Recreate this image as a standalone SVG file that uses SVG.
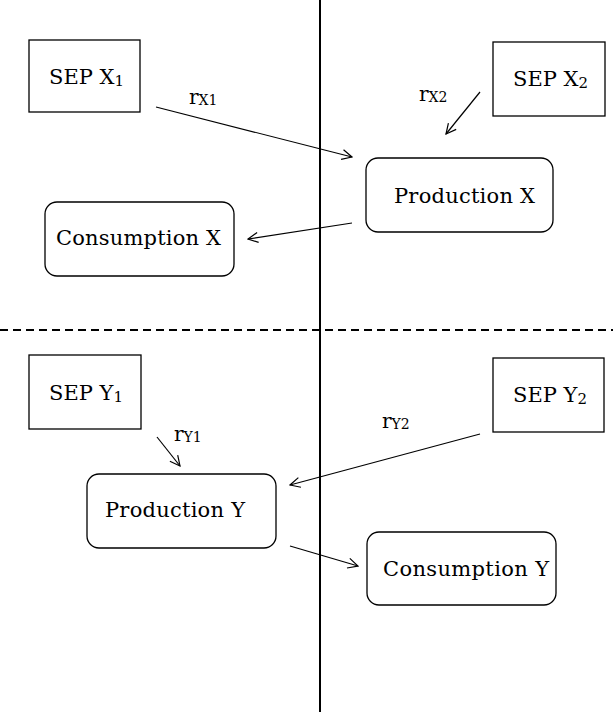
<svg xmlns="http://www.w3.org/2000/svg" width="613" height="712" viewBox="0 0 613 712">
<defs>
<style>
.box{fill:#fff;stroke:#000;stroke-width:1.3}
.t{font-family:"DejaVu Serif","Liberation Serif",serif;font-size:21px;fill:#000}
.s{font-size:15px}
.lbl{font-family:"DejaVu Serif","Liberation Serif",serif;font-size:20px;fill:#000}
.ls{font-size:14px}
.c{stroke:#000;stroke-width:1.2;fill:none;marker-end:url(#ah)}
</style>
<marker id="ah" viewBox="0 0 12 12" refX="11" refY="6" markerWidth="12" markerHeight="12" markerUnits="userSpaceOnUse" orient="auto">
<path d="M1,1 L11,6 L1,11" fill="none" stroke="#000" stroke-width="1.2"/>
</marker>
</defs>
<rect width="613" height="712" fill="#fff"/>
<g id="dividers">
<line x1="320" y1="0" x2="320" y2="712" stroke="#000" stroke-width="2"/>
<line x1="0" y1="330" x2="613" y2="330" stroke="#000" stroke-width="2" stroke-dasharray="8,5"/>
</g>
<g id="sepX1"><rect class="box" x="29" y="40" width="111" height="72"/><text class="t" x="49" y="84">SEP X<tspan class="s" dy="2">1</tspan></text></g>
<g id="sepX2"><rect class="box" x="493" y="42" width="112" height="74"/><text class="t" x="513" y="86">SEP X<tspan class="s" dy="2">2</tspan></text></g>
<g id="prodX"><rect class="box" x="366" y="158" width="187" height="74" rx="12"/><text class="t" x="394" y="203" textLength="141">Production X</text></g>
<g id="consX"><rect class="box" x="45" y="202" width="189" height="74" rx="12"/><text class="t" x="56" y="245" textLength="165">Consumption X</text></g>
<g id="sepY1"><rect class="box" x="29" y="355" width="112" height="74"/><text class="t" x="49" y="400">SEP Y<tspan class="s" dy="2">1</tspan></text></g>
<g id="sepY2"><rect class="box" x="493" y="358" width="111" height="74"/><text class="t" x="513" y="402">SEP Y<tspan class="s" dy="2">2</tspan></text></g>
<g id="prodY"><rect class="box" x="87" y="474" width="189" height="74" rx="12"/><text class="t" x="105" y="517" textLength="140">Production Y</text></g>
<g id="consY"><rect class="box" x="367" y="532" width="189" height="73" rx="12"/><text class="t" x="383" y="576" textLength="166">Consumption Y</text></g>
<g id="connectors">
<line class="c" x1="156" y1="107" x2="352" y2="157"/>
<line class="c" x1="480" y1="92" x2="446" y2="134"/>
<line class="c" x1="352" y1="223" x2="248" y2="239"/>
<line class="c" x1="157" y1="437" x2="180" y2="466"/>
<line class="c" x1="480" y1="434" x2="290" y2="485"/>
<line class="c" x1="290" y1="546" x2="358" y2="566"/>
<text class="lbl" x="189" y="104">r<tspan class="ls" dy="1">X1</tspan></text>
<text class="lbl" x="419" y="101">r<tspan class="ls" dy="1">X2</tspan></text>
<text class="lbl" x="174" y="441">r<tspan class="ls" dy="1">Y1</tspan></text>
<text class="lbl" x="382" y="428">r<tspan class="ls" dy="1">Y2</tspan></text>
</g>
</svg>
